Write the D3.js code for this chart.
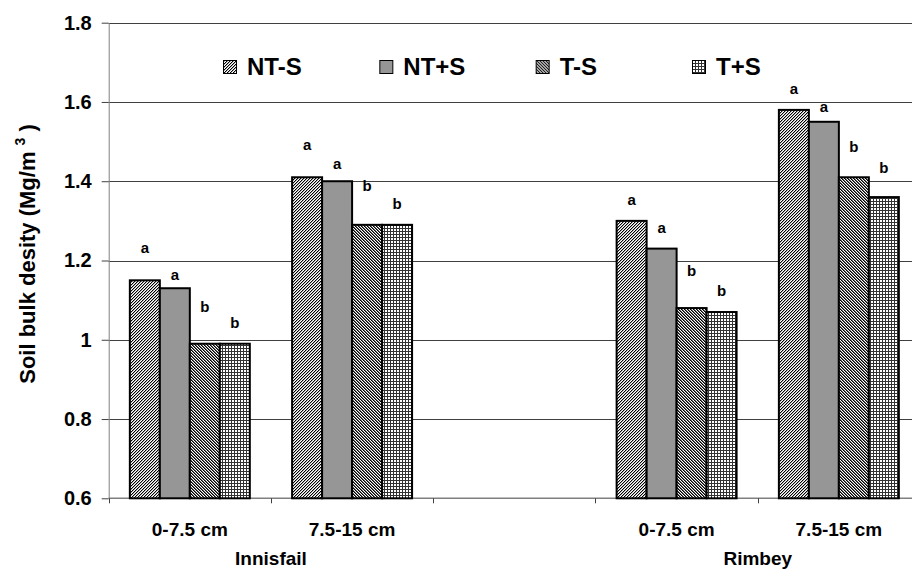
<!DOCTYPE html>
<html>
<head>
<meta charset="utf-8">
<script src="https://cdn.jsdelivr.net/npm/d3@7"></script>
<style>
  body { margin: 0; background: #fff; }
  svg { display: block; }
  text { font-family: Arial, "Liberation Sans", sans-serif; font-weight: bold; fill: #000; }
</style>
</head>
<body>
<svg id="canvas"></svg>
<script>
"use strict"

// slots on the category axis; the middle one is left empty on purpose
const sites = ["Innisfail", "Innisfail", "", "Rimbey", "Rimbey"]
const depths = ["0-7.5 cm", "7.5-15 cm", "", "0-7.5 cm", "7.5-15 cm"]
const seriesNames = ["NT-S", "NT+S", "T-S", "T+S"]

// bulk density, Mg/m3
const ntMinusS = [1.15, 1.41, null, 1.30, 1.58]
const ntPlusS = [1.13, 1.40, null, 1.23, 1.55]
const tMinusS = [0.99, 1.29, null, 1.08, 1.41]
const tPlusS = [0.99, 1.29, null, 1.07, 1.36]

// significance letters and the height (in Mg/m3) they were written at
const ntMinusSLetters = ["a", "a", null, "a", "a"]
const ntPlusSLetters = ["a", "a", null, "a", "a"]
const tMinusSLetters = ["b", "b", null, "b", "b"]
const tPlusSLetters = ["b", "b", null, "b", "b"]
const ntMinusSLetterAt = [1.22, 1.48, null, 1.34, 1.62]
const ntPlusSLetterAt = [1.15, 1.43, null, 1.27, 1.575]
const tMinusSLetterAt = [1.07, 1.375, null, 1.16, 1.475]
const tPlusSLetterAt = [1.03, 1.33, null, 1.11, 1.42]

const yTicks = [0.6, 0.8, 1, 1.2, 1.4, 1.6, 1.8]

function draw() {

  const width = 912
  const height = 569
  const plotLeft = 108.7
  const plotRight = 920   // runs past the picture edge, like the original
  const plotTop = 22.7
  const plotBottom = 498.3

  const values = [ntMinusS, ntPlusS, tMinusS, tPlusS]
  const letters = [ntMinusSLetters, ntPlusSLetters, tMinusSLetters, tPlusSLetters]
  const letterAt = [ntMinusSLetterAt, ntPlusSLetterAt, tMinusSLetterAt, tPlusSLetterAt]

  const svg = d3.select("#canvas")
    .attr("width", width)
    .attr("height", height)

  const x = d3.scaleBand()
    .domain(d3.range(depths.length))
    .range([plotLeft, plotRight])

  const xInner = d3.scaleBand()
    .domain(seriesNames)
    .range([0, x.bandwidth()])
    .paddingOuter(0.705)

  const y = d3.scaleLinear()
    .domain([0.6, 1.8])
    .range([plotBottom, plotTop])

  // fill patterns, drawn pixel by pixel
  const defs = svg.append("defs")
  function addPattern(id, size, colorAt) {
    const p = defs.append("pattern")
      .attr("id", id)
      .attr("patternUnits", "userSpaceOnUse")
      .attr("width", size)
      .attr("height", size)
    p.append("rect").attr("width", size).attr("height", size).attr("fill", "#fff")
    for (let i = 0; i < size; i++) {
      for (let j = 0; j < size; j++) {
        const c = colorAt(i, j)
        if (c) {
          p.append("rect")
            .attr("x", i).attr("y", j)
            .attr("width", 1).attr("height", 1)
            .attr("fill", c)
        }
      }
    }
  }
  const mod = (a, n) => ((a % n) + n) % n
  addPattern("p-nt-minus", 3, (i, j) => [null, "#000", "#aaa"][mod(i + j, 3)])
  addPattern("p-t-minus", 3, (i, j) => ["#000", "#666", null][mod(i - j, 3)])
  addPattern("p-t-plus", 3, (i, j) => (i % 3 === 0 || j % 3 === 0) ? "#333" : null)

  const fills = {
    "NT-S": "url(#p-nt-minus)",
    "NT+S": "#969696",
    "T-S": "url(#p-t-minus)",
    "T+S": "url(#p-t-plus)",
  }

  // gridlines
  svg.append("g")
    .selectAll("line")
    .data(yTicks.filter(t => t > 0.6))
    .enter().append("line")
      .attr("x1", plotLeft)
      .attr("x2", plotRight)
      .attr("y1", t => Math.round(y(t)) + 0.5)
      .attr("y2", t => Math.round(y(t)) + 0.5)
      .attr("stroke", "#404040")
      .attr("stroke-width", 1)

  // y axis
  const yAxis = svg.append("g")
    .attr("transform", "translate(" + plotLeft + ",0)")
    .call(d3.axisLeft(y)
      .tickValues(yTicks)
      .tickSize(7)
      .tickPadding(10)
      .tickSizeOuter(0)
      .tickFormat(d => String(+d.toFixed(1))))
  yAxis.select(".domain").attr("stroke", "#808080")
  yAxis.selectAll(".tick line").attr("stroke", "#404040")
  yAxis.selectAll(".tick text")
    .attr("font-size", 20)
    .attr("font-family", null)
    .attr("fill", "#000")

  // x axis line and the ticks between slots
  svg.append("line")
    .attr("x1", plotLeft).attr("x2", plotRight)
    .attr("y1", plotBottom).attr("y2", plotBottom)
    .attr("stroke", "#808080")
    .attr("stroke-width", 1.5)
  const bounds = x.domain().map(i => x(i)).concat([plotRight])
  svg.append("g")
    .selectAll("line")
    .data(bounds)
    .enter().append("line")
      .attr("x1", b => Math.round(b) + 0.5)
      .attr("x2", b => Math.round(b) + 0.5)
      .attr("y1", plotBottom)
      .attr("y2", plotBottom + 5)
      .attr("stroke", "#404040")

  // bars
  const barData = []
  const letterData = []
  seriesNames.forEach((name, s) => {
    values[s].forEach((v, i) => {
      if (v == null) return
      barData.push({ name: name, slot: i, value: v })
      letterData.push({ name: name, slot: i, letter: letters[s][i], at: letterAt[s][i] })
    })
  })

  svg.append("g")
    .selectAll("rect")
    .data(barData)
    .enter().append("rect")
      .attr("x", d => x(d.slot) + xInner(d.name))
      .attr("y", d => y(d.value))
      .attr("width", xInner.bandwidth())
      .attr("height", d => plotBottom - y(d.value))
      .attr("fill", d => fills[d.name])
      .attr("stroke", "#000")
      .attr("stroke-width", 2)

  svg.append("g")
    .selectAll("text")
    .data(letterData)
    .enter().append("text")
      .attr("x", d => x(d.slot) + xInner(d.name) + xInner.bandwidth() / 2)
      .attr("y", d => y(d.at))
      .attr("text-anchor", "middle")
      .attr("font-size", 15)
      .text(d => d.letter)

  // category labels
  svg.append("g")
    .selectAll("text")
    .data(d3.range(depths.length).filter(i => depths[i]))
    .enter().append("text")
      .attr("x", i => x(i) + x.bandwidth() / 2)
      .attr("y", 536)
      .attr("text-anchor", "middle")
      .attr("font-size", 19)
      .text(i => depths[i])

  const siteNames = Array.from(new Set(sites.filter(s => s)))
  svg.append("g")
    .selectAll("text")
    .data(siteNames)
    .enter().append("text")
      .attr("x", s => d3.mean(d3.range(sites.length).filter(i => sites[i] === s), i => x(i) + x.bandwidth() / 2))
      .attr("y", 565)
      .attr("text-anchor", "middle")
      .attr("font-size", 19)
      .text(s => s)

  // y title
  const title = svg.append("text")
    .attr("transform", "translate(35,254) rotate(-90)")
    .attr("text-anchor", "middle")
    .attr("font-size", 22)
  title.append("tspan").text("Soil bulk desity (Mg/m ")
  title.append("tspan").attr("font-size", 14).attr("dy", -10).text("3")
  title.append("tspan").attr("dy", 10).text(" )")

  // legend
  const legendX = d3.scalePoint()
    .domain(seriesNames)
    .range([223, 692])
  const legend = svg.append("g")
    .selectAll("g")
    .data(seriesNames)
    .enter().append("g")
      .attr("transform", d => "translate(" + legendX(d) + ",0)")
  legend.append("rect")
    .attr("x", 0.5).attr("y", 60.5)
    .attr("width", 13).attr("height", 13)
    .attr("fill", d => fills[d])
    .attr("stroke", "#000")
  legend.append("text")
    .attr("x", 24)
    .attr("y", 75)
    .attr("font-size", 24)
    .text(d => d)
}

draw()
</script>
</body>
</html>
